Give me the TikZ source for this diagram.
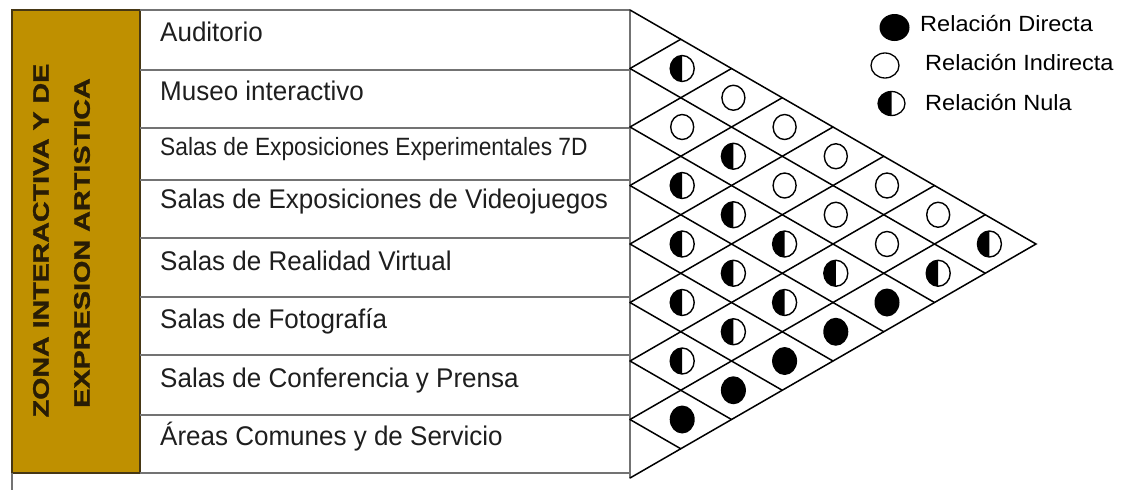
\documentclass[tikz,border=0pt]{standalone}
\usepackage{fontspec}
\setmainfont{Liberation Sans}
\newfontfamily\zonefont{Liberation Sans Bold}[FakeBold=1.2]
\usepackage{graphicx}
\definecolor{gold}{RGB}{191,144,0}
\definecolor{goldline}{RGB}{70,55,20}
\definecolor{frame}{RGB}{115,115,115}
\definecolor{txt}{RGB}{30,30,30}
\definecolor{vtxt}{RGB}{40,28,5}
\tikzset{
  dirc/.pic={\fill[black] (0,0) ellipse[x radius=12.5,y radius=14];},
  indc/.pic={\draw[black,line width=1.4pt,fill=white] (0,0) ellipse[x radius=11.5,y radius=12.5];},
  nulc/.pic={\draw[black,line width=1.4pt,fill=white] (0,0) ellipse[x radius=12,y radius=13];
             \fill[black] (0,-13) arc[start angle=-90,end angle=-270,x radius=12,y radius=13] -- cycle;},
}
\begin{document}
\begin{tikzpicture}[x=1pt,y=-1pt,
  rowline/.style={draw=frame,line width=1.8pt},
  goldbox/.style={fill=gold,draw=goldline,line width=1.5pt},
  gridline/.style={draw=black,line width=1.5pt,line cap=round},
  rowtext/.style={anchor=base west,inner sep=0pt,text=txt,font=\fontsize{27}{30}\selectfont},
  legtext/.style={anchor=base west,inner sep=0pt,text=black,font=\fontsize{22}{26}\selectfont},
  vtext/.style={rotate=90,inner sep=0pt,text=vtxt,font=\zonefont\fontsize{22.5}{26}\selectfont},
  ]
\useasboundingbox (0,0) rectangle (1123,490);
\fill[white] (0,0) rectangle (1123,490);

% left zone box
\draw[goldbox] (12,10) rectangle (140,473);
\draw[rowline] (12,473) -- (12,490);
\node[vtext] (z1) at (41,240.5) {\scalebox{1.27}[1]{ZONA INTERACTIVA Y DE}};
\node[vtext] (z2) at (82,243) {\scalebox{1.28}[1]{EXPRESION ARTISTICA}};

% table
\draw[rowline] (140,10) -- (630,10);
\foreach \y in {70,128,180,238,297,355,415,473}
  \draw[rowline] (140,\y) -- (630,\y);
\draw[rowline] (630,10) -- (630,478);

\node[rowtext] (r1) at (160,41) {\scalebox{0.963}[1]{Auditorio}};
\node[rowtext] (r2) at (160,100) {\scalebox{0.963}[1]{Museo interactivo}};
\node[rowtext,font=\fontsize{25}{28}\selectfont] (r3) at (160,155) {\scalebox{0.91}[1]{Salas de Exposiciones Experimentales 7D}};
\node[rowtext] (r4) at (160,208) {\scalebox{0.963}[1]{Salas de Exposiciones de Videojuegos}};
\node[rowtext] (r5) at (160,270) {\scalebox{0.963}[1]{Salas de Realidad Virtual}};
\node[rowtext] (r6) at (160,328) {\scalebox{0.963}[1]{Salas de Fotografía}};
\node[rowtext] (r7) at (160,387) {\scalebox{0.963}[1]{Salas de Conferencia y Prensa}};
\node[rowtext] (r8) at (160,445) {\scalebox{0.963}[1]{Áreas Comunes y de Servicio}};

% relation matrix grid
\coordinate (apex) at (630,10);
\coordinate (bot) at (630,478);
\coordinate (tip) at (1036,244);
\draw[gridline] (apex) -- (tip) -- (bot);
\foreach \k in {1,...,7}
  \draw[gridline] (630,{10+58.5*\k}) -- ({630+50.75*\k},{10+29.25*\k});
\foreach \k in {1,...,7}
  \draw[gridline] (630,{10+58.5*\k}) -- ({630+50.75*(8-\k)},{10+58.5*\k+29.25*(8-\k)});

% matrix symbols: d = distance, i = upper row
\foreach \d/\i in {1/1,1/3,1/4,1/5,1/6,2/2,2/3,2/4,2/5,3/3,3/4,4/3,6/2,7/1}
  \pic (n\d\i) at ({631+51.2*\d},{10+29.25*(2*\i+\d-1)}) {nulc};
\foreach \d/\i in {1/2,2/1,3/1,3/2,4/1,4/2,5/1,5/2,6/1}
  \pic (o\d\i) at ({631+51.2*\d},{10+29.25*(2*\i+\d-1)}) {indc};
\foreach \d/\i in {1/7,2/6,3/5,4/4,5/3}
  \pic (f\d\i) at ({631+51.2*\d},{10+29.25*(2*\i+\d-1)}) {dirc};

% legend
\fill[black] (894.5,27.5) ellipse[x radius=15,y radius=13.5];
\draw[black,line width=1.3pt,fill=white] (885,65.5) ellipse[x radius=14,y radius=12.5];
\draw[black,line width=1.3pt,fill=white] (891.5,103.5) ellipse[x radius=13.5,y radius=12];
\fill[black] (891.5,91.5) arc[start angle=-90,end angle=-270,x radius=13.5,y radius=12] -- cycle;
\node[legtext] (l1) at (920,31.75) {\scalebox{1.07}[1]{Relación Directa}};
\node[legtext] (l2) at (925,70.75) {\scalebox{1.07}[1]{Relación Indirecta}};
\node[legtext] (l3) at (925,110.75) {\scalebox{1.07}[1]{Relación Nula}};
\end{tikzpicture}
\end{document}
